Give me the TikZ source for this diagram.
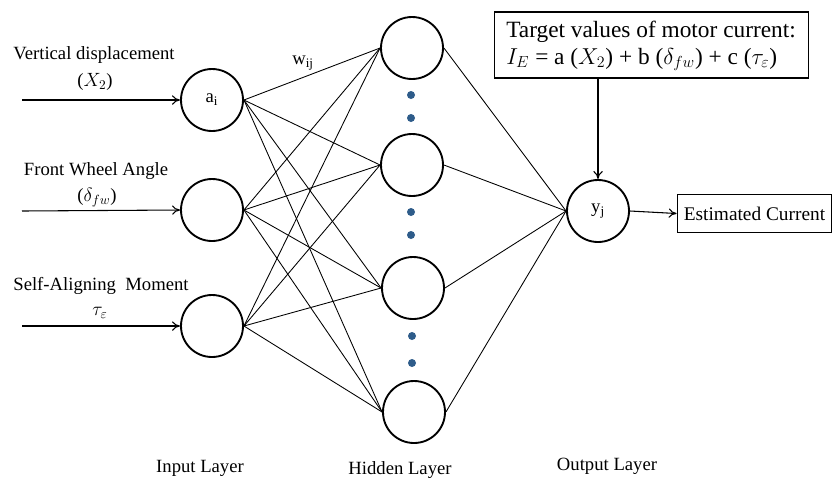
\documentclass[tikz,border=0pt]{standalone}
\usepackage{fontspec}
\setmainfont{Liberation Serif}
\usepackage{xcolor}
\usepackage{tikz}
\usetikzlibrary{arrows.meta}

\definecolor{dotblue}{HTML}{2E5C8A}
\tikzset{
  neuron/.style={draw, circle, line width=1.4pt, minimum size=46.5pt, inner sep=0pt, font=\fontsize{14}{16}\selectfont},
  link/.style={line width=0.65pt},
  feed/.style={line width=0.8pt, -{To[length=6pt,width=7pt]}},
  gap/.style={circle, fill=dotblue, inner sep=0pt, minimum size=6pt},
  lbl/.style={font=\fontsize{14}{16}\selectfont, inner sep=0pt},
  box/.style={draw, line width=0.8pt, inner sep=0pt}
}

\begin{document}
\begin{tikzpicture}[x=0.75pt,y=-0.75pt]
                    \useasboundingbox (0,0) rectangle (834,480);
                    % input layer
                    \node[neuron] (i1) at (212,100) {a\textsubscript{i}};
                    \node[neuron] (i2) at (212,210) {};
                    \node[neuron] (i3) at (212,326) {};
                    % hidden layer
                    \node[neuron] (h1) at (412,48) {};
                    \node[neuron] (h2) at (412,165) {};
                    \node[neuron] (h3) at (413,288) {};
                    \node[neuron] (h4) at (414,412) {};
                    \node[gap] (g1) at (411,95) {};
                    \node[gap] (g2) at (411,118) {};
                    \node[gap] (g3) at (411,212) {};
                    \node[gap] (g4) at (411,235) {};
                    \node[gap] (g5) at (412,336) {};
                    \node[gap] (g6) at (412,363) {};
                    % output layer
                    \node[neuron] (o) at (598,211) {y\textsubscript{j}};
                    \node[box, minimum width=236pt, minimum height=49.5pt] (tgt) at (651.5,45) {};
                    \node[anchor=west, align=left, inner sep=0pt, font=\fontsize{17.5}{20}\selectfont] (tgttxt) at (506,46)
                      {Target values of motor current:\\ $I_E$ = a ($X_2$) + b ($\delta_{fw}$) + c ($\tau_\varepsilon$)};
                    \node[box, minimum width=116pt, minimum height=28pt, font=\fontsize{14.5}{16}\selectfont] (est) at (754.5,213.5) {Estimated Current};
                    % inputs
                    \coordinate (s1) at (22,100);
                    \coordinate (s2) at (22,211);
                    \coordinate (s3) at (22,326);
                    \draw[feed] (s1) -- (i1.west);
                    \draw[feed] (s2) -- (i2.west);
                    \draw[feed] (s3) -- (i3.west);
                    \node[lbl] (t1) at (94,55) {Vertical displacement};
                    \node[lbl] (v1) at (95,82) {($X_2$)};
                    \node[lbl] (t2) at (96,171) {Front Wheel Angle};
                    \node[lbl] (v2) at (97,198) {($\delta_{fw}$)};
                    \node[lbl] (t3) at (101,286) {Self-Aligning\ \ Moment};
                    \node[lbl] (v3) at (100,313) {$\tau_\varepsilon$};
                    \node[lbl] (w) at (303,63) {w\textsubscript{ij}};
                    % weights
                    \draw[link] (i1.east) -- (h1.west);
                    \draw[link] (i1.east) -- (h2.west);
                    \draw[link] (i1.east) -- (h3.west);
                    \draw[link] (i1.east) -- (h4.west);
                    \draw[link] (i2.east) -- (h1.west);
                    \draw[link] (i2.east) -- (h2.west);
                    \draw[link] (i2.east) -- (h3.west);
                    \draw[link] (i2.east) -- (h4.west);
                    \draw[link] (i3.east) -- (h1.west);
                    \draw[link] (i3.east) -- (h2.west);
                    \draw[link] (i3.east) -- (h3.west);
                    \draw[link] (i3.east) -- (h4.west);
                    \draw[link] (h1.east) -- (o.west);
                    \draw[link] (h2.east) -- (o.west);
                    \draw[link] (h3.east) -- (o.west);
                    \draw[link] (h4.east) -- (o.west);
                    % output
                    \draw[feed] (tgt.south -| o.north) -- (o.north);
                    \draw[feed] (o.east) -- (est.west);
                    % layer names
                    \node[lbl] (l1) at (200,468) {Input Layer};
                    \node[lbl] (l2) at (400,470) {Hidden Layer};
                    \node[lbl] (l3) at (607,466) {Output Layer};
                \end{tikzpicture}
\end{document}
